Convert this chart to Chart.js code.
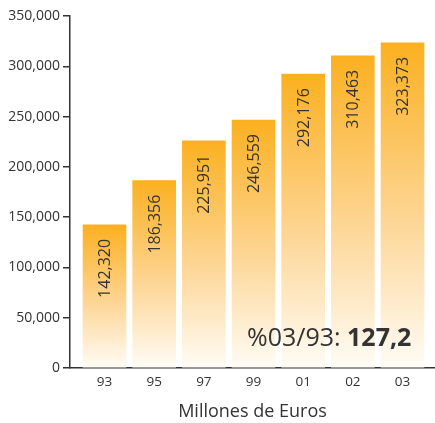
<!DOCTYPE html>
<html><head><meta charset="utf-8">
<script src="https://cdn.jsdelivr.net/npm/chart.js@4"></script>
<style>html,body{margin:0;padding:0;background:#fff}#w{width:435px;height:423px}</style>
</head><body><div id="w"><canvas id="c"></canvas></div>
<script>
const categories = ['93','95','97','99','01','02','03'];
const values = [142320,186356,225951,246559,292176,310463,323373];
const yTicks = [0,50000,100000,150000,200000,250000,300000,350000];
const axisTitle = 'Millones de Euros';
const noteLabel = '%03/93: ';
const noteValue = '127,2';

const FONT = "'Open Sans', 'Noto Sans', sans-serif";
const fmt = v => v.toLocaleString('en-US');

function grad(ctx){
  const chart = ctx.chart;
  const ca = chart.chartArea;
  if(!ca || ctx.raw === undefined) return '#FBB021';
  const y = chart.scales.y;
  const top = y.getPixelForValue(ctx.raw.y);
  const bot = y.getPixelForValue(0);
  const g = chart.ctx.createLinearGradient(0, top, 0, bot);
  g.addColorStop(0, 'rgb(251,176,32)');
  g.addColorStop(0.55, 'rgb(253,214,150)');
  g.addColorStop(1, 'rgb(255,252,246)');
  return g;
}

const labelsPlugin = {
  id:'barLabels',
  afterDatasetsDraw(chart){
    const c = chart.ctx;
    const meta = chart.getDatasetMeta(0);
    c.save();
    c.font = "16px " + FONT;
    c.fillStyle = '#333';
    c.textAlign = 'right';
    c.textBaseline = 'middle';
    meta.data.forEach((el,i)=>{
      c.save();
      c.translate(el.x+1, el.y + 14);
      c.rotate(-Math.PI/2);
      c.fillText(fmt(values[i]), 0, 0);
      c.restore();
    });
    const ca = chart.chartArea;
    c.textAlign='left'; c.textBaseline='alphabetic';
    c.font = "25px " + FONT;
    const x0 = ca.left + 177, y0 = ca.bottom - 22;
    c.fillText(noteLabel, x0, y0);
    const w = c.measureText(noteLabel).width;
    c.font = "bold 25px " + FONT;
    c.fillText(noteValue, x0 + w, y0);
    c.restore();
  }
};

new Chart(document.getElementById('c'), {
  type:'bar',
  data:{
    datasets:[{
      data: categories.map((c,i)=>({x:i, y:values[i]})),
      backgroundColor: grad,
      borderWidth:0,
      barThickness:43
    }]
  },
  options:{
    responsive:true, maintainAspectRatio:false, animation:false,
    layout:{padding:{top:16,right:0,bottom:0,left:0}},
    plugins:{legend:{display:false}, tooltip:{enabled:false}},
    scales:{
      x:{
        type:'linear', min:-0.695, max:6.654, offset:false,
        afterBuildTicks: s => { s.ticks = categories.map((_,i)=>({value:i})); },
        afterFit: s => { s.height = 55; },
        grid:{display:true, drawOnChartArea:false, drawTicks:false, offset:false},
        border:{display:true, color:'#333', width:1.5},
        ticks:{callback: v => categories[v], color:'#333', font:{family:FONT,size:13.5}, padding:6, maxRotation:0, autoSkip:false},
        title:{display:true, text:axisTitle, color:'#333', font:{family:FONT,size:18}, padding:{top:5,bottom:0}}
      },
      y:{
        min:0, max:350000,
        afterBuildTicks: s => { s.ticks = yTicks.map(v=>({value:v})); },
        afterFit: s => { s.width = 70; },
        grid:{drawOnChartArea:false, drawTicks:true, tickLength:7, color:'#333', lineWidth:1.5},
        border:{display:true, color:'#333', width:1.5},
        ticks:{callback: v => fmt(v), color:'#333', font:{family:FONT,size:14}, padding:3}
      }
    }
  },
  plugins:[labelsPlugin]
});
</script></body></html>
